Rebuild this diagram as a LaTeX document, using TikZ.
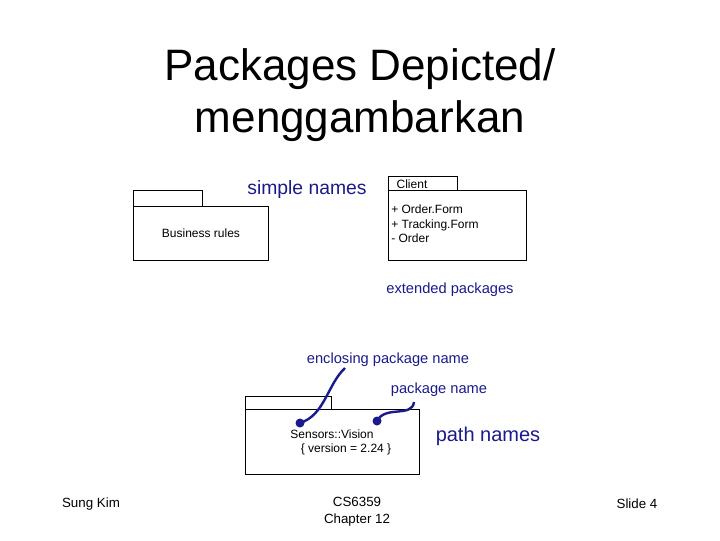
\documentclass[tikz,border=0pt]{standalone}
\usepackage{fontspec}
\setmainfont{Liberation Sans}
\begin{document}
\begin{tikzpicture}[x=0.75pt,y=-0.75pt,
  box/.style={draw,line width=0.6pt},
  lbl/.style={text=blu,inner sep=0pt},
  small/.style={font=\fontsize{9}{11}\selectfont,inner sep=0pt},
  conn/.style={draw=blu,line width=1.8pt}]
\definecolor{blu}{RGB}{26,26,140}
\useasboundingbox (0,0) rectangle (720,540);
\node (title) at (360,95) [align=center,font=\fontsize{33}{39}\selectfont] {Packages Depicted/\\menggambarkan};
% business rules
\draw[box] (133,190) rectangle (202,206);
\draw[box] (133,206) rectangle (268,260);
\node[small] (br) at (201,233) {Business rules};
\node[lbl,font=\fontsize{14.5}{16}\selectfont] (sn) at (307,189) {simple names};
% client
\draw[box] (388,176) rectangle (457,190);
\draw[box] (388,190) rectangle (526,260);
\node[small] (cl) at (412,184) {Client};
\node[small,anchor=west,align=left] (cc) at (391,224) {+ Order.Form\\+ Tracking.Form\\- Order};
\node[lbl,font=\fontsize{11}{13}\selectfont] (ep) at (450,290) {extended packages};
% bottom
\node[lbl,font=\fontsize{11}{13}\selectfont] (enc) at (388,360) {enclosing package name};
\node[lbl,font=\fontsize{11}{13}\selectfont] (pn) at (439,390) {package name};
\draw[box] (245,396) rectangle (331,409);
\draw[box] (245,409) rectangle (419,474);
\node[small] (sv) at (332,434) {Sensors::Vision};
\node[small] (ver) at (346,449) {\{ version = 2.24 \}};
\node[lbl,font=\fontsize{15}{17}\selectfont] (path) at (488,436) {path names};
\fill[blu] (300,423) circle (4.5) coordinate (d1);
\fill[blu] (377,421) circle (4.5) coordinate (d2);
\coordinate (e1) at (345,368);
\coordinate (e2) at (414,402);
\draw[conn] (d1) .. controls (325,415) and (327,385) .. (e1);
\draw[conn] (d2) .. controls (385,405) and (412,418) .. (e2);
% footer
\node[small,font=\fontsize{10}{12}\selectfont] (sk) at (91,504) {Sung Kim};
\node[align=center,font=\fontsize{10}{13}\selectfont] (cs) at (357,512) {CS6359\\Chapter 12};
\node[small,font=\fontsize{10}{12}\selectfont] (sl) at (637,504) {Slide 4};
\end{tikzpicture}
\end{document}
